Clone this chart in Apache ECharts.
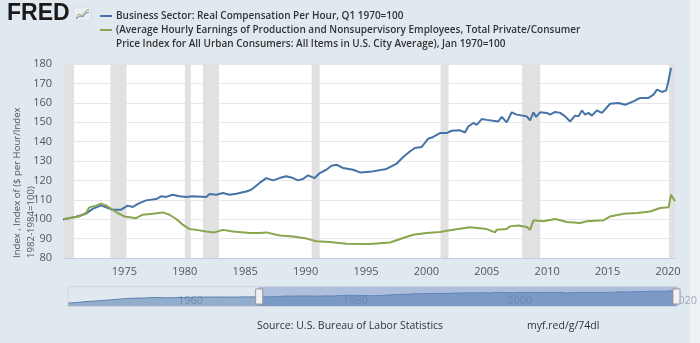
<!DOCTYPE html>
<html><head><meta charset="utf-8">
<script src="https://cdn.jsdelivr.net/npm/echarts@6/dist/echarts.min.js"></script>
<style>html,body{margin:0;padding:0;background:#e1e9f0}#c{width:700px;height:343px}</style>
</head><body><div id="c"></div>
<script>
// ---- data (decimal years) ----
const blueHistYears  = [1947,1949,1951,1953,1955,1957,1959,1961,1963,1965,1967,1969];
const blueHistValues = [55,58,62,67,71,74,78,82,86,90,95,98];
const blueYears = [1970.0,1971.0,1971.82,1972.37,1973.07,1973.48,1974.03,1974.73,1975.27,1975.69,1976.24,1976.8,1977.63,1978.04,1978.46,1979.0,1979.56,1980.12,1980.66,1981.77,1982.05,1982.6,1983.15,1983.71,1984.26,1985.09,1985.5,1986.19,1986.75,1987.3,1987.85,1988.41,1988.96,1989.37,1989.78,1990.2,1990.75,1991.17,1991.72,1992.14,1992.55,1993.1,1993.93,1994.49,1995.32,1996.7,1997.53,1998.08,1998.63,1999.05,1999.6,2000.15,2000.56,2001.12,2001.67,2002.09,2002.78,2003.19,2003.47,2003.88,2004.16,2004.58,2004.99,2005.95,2006.24,2006.65,2007.06,2007.48,2008.31,2008.58,2008.86,2009.08,2009.41,2009.97,2010.24,2010.66,2011.07,2011.21,2011.48,2011.9,2012.31,2012.59,2012.87,2013.14,2013.42,2013.7,2014.11,2014.53,2015.21,2015.9,2016.46,2017.14,2017.7,2018.39,2018.8,2019.09,2019.5,2019.86,2020.0,2020.25];
const blueValues = [100.0,101.3,102.8,105.3,107.1,106.1,104.9,104.9,107.0,106.3,108.3,109.7,110.4,111.8,111.5,112.6,111.8,111.5,111.8,111.5,113.0,112.6,113.5,112.6,113.1,114.3,115.2,118.7,121.2,120.0,121.2,122.1,121.2,120.0,120.7,122.6,121.2,123.8,125.5,127.6,128.1,126.4,125.5,124.1,124.4,125.9,128.6,132.1,134.9,136.7,137.2,141.5,142.4,144.4,144.4,145.6,145.8,144.7,147.8,149.6,148.6,151.6,151.2,150.4,152.7,149.9,155.1,153.9,153.0,150.9,155.1,152.7,155.1,154.8,153.9,155.3,154.8,155.6,153.0,150.4,153.4,153.0,156.1,153.9,154.8,153.4,156.1,154.8,159.5,159.9,159.0,160.7,162.5,162.5,164.2,166.8,165.6,166.4,170.2,178.0];
const greenYears = [1970.0,1971.27,1971.82,1972.1,1972.65,1973.07,1973.48,1973.9,1974.44,1975.0,1975.56,1975.97,1976.52,1977.35,1978.18,1978.73,1979.29,1979.83,1980.39,1980.95,1981.77,1982.46,1983.15,1983.98,1985.37,1986.19,1986.75,1987.85,1988.96,1990.07,1990.9,1992.0,1993.38,1995.32,1996.98,1998.08,1998.91,2000.02,2001.12,2001.81,2001.95,2003.61,2004.99,2005.68,2005.82,2006.65,2006.92,2007.61,2008.31,2008.58,2008.86,2009.69,2010.66,2011.63,2012.73,2013.28,2014.66,2015.21,2016.32,2017.43,2018.53,2019.36,2020.05,2020.25,2020.58];
const greenValues = [100.1,101.4,103.2,106.1,107.0,108.0,107.1,105.3,103.2,101.4,100.9,100.5,102.3,102.8,103.5,102.3,100.1,97.2,94.9,94.5,93.7,93.2,94.5,93.7,92.9,92.9,93.2,91.6,91.1,90.0,88.6,88.3,87.4,87.2,88.0,90.3,92.0,92.9,93.4,94.2,94.9,95.8,94.9,93.2,94.5,94.9,96.3,96.7,96.0,94.5,99.4,98.9,100.1,98.6,98.0,98.9,99.4,101.4,102.8,103.2,104.0,105.8,106.1,112.6,109.2];
const recStart = [1970.0,1973.84,1980.0,1981.5,1990.5,2001.17,2007.92,2020.08];
const recEnd   = [1970.83,1975.17,1980.5,1982.83,1991.17,2001.83,2009.42,2020.58];
const navLabelYears = [1960,1980,2000,2020];

const blueName = 'Business Sector: Real Compensation Per Hour, Q1 1970=100';
const greenName1 = '(Average Hourly Earnings of Production and Nonsupervisory Employees, Total Private/Consumer';
const greenName2 = 'Price Index for All Urban Consumers: All Items in U.S. City Average), Jan 1970=100';
const yName1 = 'Index , Index of ($ per Hour/Index';
const yName2 = '1982-1984=100)';

const FONT = '"Open Sans", sans-serif';
const BLUE = '#4572a7', GREEN = '#89a54e';

const zip = (xs, ys) => xs.map((x, i) => [x, ys[i]]);
const blueData = zip(blueHistYears.concat(blueYears), blueHistValues.concat(blueValues));
const greenData = zip(greenYears, greenValues);
const recAreas = recStart.map((s, i) => [{xAxis: s}, {xAxis: recEnd[i]}]);

const chart = echarts.init(document.getElementById('c'), null, {renderer: 'canvas'});
const option = {
  backgroundColor: '#e1e9f0',
  animation: false,
  grid: [
    {left: 64, right: 25, top: 64, bottom: 85, show: true, backgroundColor: '#ffffff', borderWidth: 0},
    {left: 65, right: 25, top: 286, height: 21, show: false}
  ],
  xAxis: [
    {type: 'value', gridIndex: 0, min: 'dataMin', max: 'dataMax', interval: 5,
     axisLine: {show: true, lineStyle: {color: '#c0d0e0'}}, axisTick: {show: false},
     splitLine: {show: false},
     axisLabel: {showMinLabel: false, showMaxLabel: false, color: '#555', fontSize: 11, fontFamily: FONT, margin: 8,
       formatter: v => String(Math.round(v))}},
    {type: 'value', gridIndex: 1, min: blueHistYears[0], max: greenYears[greenYears.length - 1],
     axisLine: {show: false}, axisTick: {show: false, customValues: navLabelYears},
     splitLine: {show: false},
     axisLabel: {inside: true, customValues: navLabelYears, align: 'left', padding: [0, 0, 0, 6], margin: 1,
       color: '#a0a8b4', fontSize: 11, fontFamily: FONT, formatter: v => String(Math.round(v))}}
  ],
  yAxis: [
    {type: 'value', gridIndex: 0, min: 80, max: 180, interval: 10,
     axisLine: {show: false}, axisTick: {show: false},
     splitLine: {lineStyle: {color: '#e6e6e6', width: 1}},
     axisLabel: {color: '#555', fontSize: 11, fontFamily: FONT, margin: 12}},
    {type: 'value', gridIndex: 1, min: 0, max: 1, show: false}
  ],
  dataZoom: [{
    type: 'slider', xAxisIndex: 0, filterMode: 'none',
    startValue: 1970, endValue: greenYears[greenYears.length - 1],
    left: 65, right: 25, top: 286, height: 21,
    backgroundColor: 'rgba(0,0,0,0)', borderColor: '#cfd6de', borderRadius: 0,
    fillerColor: 'rgba(102,133,194,0.42)',
    showDetail: false, showDataShadow: true, brushSelect: false, moveHandleSize: 0,
    handleIcon: 'path://M0,0H7V15H0Z', handleSize: '72%',
    handleStyle: {color: '#f2f2f2', borderColor: '#999', borderWidth: 1},
    dataBackground: {lineStyle: {color: BLUE, width: 1, opacity: 0.8}, areaStyle: {color: BLUE, opacity: 0.5}},
    selectedDataBackground: {lineStyle: {color: BLUE, width: 1, opacity: 0.8}, areaStyle: {color: BLUE, opacity: 0.55}},
    emphasis: {handleStyle: {color: '#f2f2f2', borderColor: '#999'}}
  }],
  series: [
    {name: blueName, type: 'line', xAxisIndex: 0, yAxisIndex: 0, data: blueData, symbol: 'none', z: 3,
     lineStyle: {color: BLUE, width: 2}},
    {name: greenName1, type: 'line', xAxisIndex: 0, yAxisIndex: 0, data: greenData, symbol: 'none', z: 3,
     lineStyle: {color: GREEN, width: 2}},
    {name: 'Recessions', type: 'line', xAxisIndex: 0, yAxisIndex: 0, data: [], z: 1, silent: true,
     markArea: {silent: true, itemStyle: {color: '#e1e1e1'}, data: recAreas}}
  ],
  graphic: [
    {type: 'rect', shape: {x: 690, y: 0, width: 10, height: 343}, style: {fill: '#edf1f5'}, z: -1},
    {type: 'text', x: 7, y: 2, style: {text: 'FRED', font: 'bold 23px "Liberation Sans", Arial, sans-serif', fill: '#1a1a1a'}},
    {type: 'rect', shape: {x: 74, y: 7, width: 17, height: 14, r: 2}, style: {fill: '#e9eef3', stroke: '#c8d2dc', lineWidth: 0.5}},
    {type: 'polyline', shape: {points: [[76, 18], [79, 14], [82, 16], [86, 11], [89, 9]]}, style: {stroke: '#8fb05a', lineWidth: 1, fill: null}},
    {type: 'polyline', shape: {points: [[76, 19], [80, 16], [83, 17], [86, 13], [89, 12]]}, style: {stroke: '#6f8fbf', lineWidth: 1, fill: null}},
    {type: 'line', shape: {x1: 100, y1: 16, x2: 112, y2: 16}, style: {stroke: BLUE, lineWidth: 2}},
    {type: 'line', shape: {x1: 100, y1: 30, x2: 112, y2: 30}, style: {stroke: GREEN, lineWidth: 2}},
    {type: 'text', x: 116, y: 16, style: {text: blueName, font: '600 10px ' + FONT, fill: '#333', textVerticalAlign: 'middle'}},
    {type: 'text', x: 116, y: 30, style: {text: greenName1, font: '600 10px ' + FONT, fill: '#333', textVerticalAlign: 'middle'}},
    {type: 'text', x: 116, y: 44.5, style: {text: greenName2, font: '600 10px ' + FONT, fill: '#333', textVerticalAlign: 'middle'}},
    {type: 'text', x: 17.5, y: 258, rotation: Math.PI / 2, style: {text: yName1, font: '9.6px ' + FONT, fill: '#555', textAlign: 'left', textVerticalAlign: 'middle'}},
    {type: 'text', x: 31, y: 258, rotation: Math.PI / 2, style: {text: yName2, font: '9.6px ' + FONT, fill: '#555', textAlign: 'left', textVerticalAlign: 'middle'}},
    {type: 'text', x: 257, y: 326, style: {text: 'Source: U.S. Bureau of Labor Statistics', font: '10.5px ' + FONT, fill: '#333', textVerticalAlign: 'middle'}},
    {type: 'text', x: 527, y: 326, style: {text: 'myf.red/g/74dl', font: '10.5px ' + FONT, fill: '#333', textVerticalAlign: 'middle'}}
  ]
};
chart.setOption(option);
</script></body></html>
